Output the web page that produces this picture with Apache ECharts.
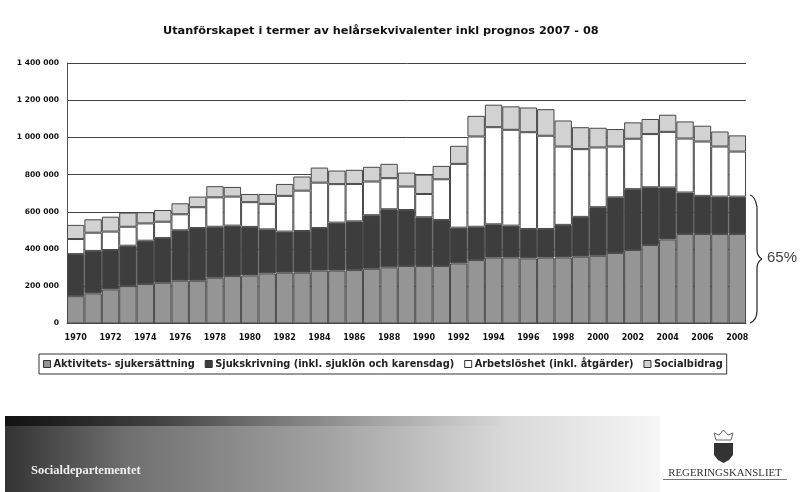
<!DOCTYPE html>
<html><head><meta charset="utf-8">
<style>html,body{margin:0;padding:0;background:#fff}#c{width:803px;height:492px}</style>
<script src="https://cdn.jsdelivr.net/npm/echarts@6/dist/echarts.min.js"></script></head>
<body><div id="c"></div>
<script>
const years = ["1970","1971","1972","1973","1974","1975","1976","1977","1978","1979","1980","1981","1982","1983","1984","1985","1986","1987","1988","1989","1990","1991","1992","1993","1994","1995","1996","1997","1998","1999","2000","2001","2002","2003","2004","2005","2006","2007","2008"];
const aktivitet = [147,162,183,201,212,219,230,230,246,255,258,269,273,273,284,284,287,294,302,309,309,309,323,341,354,354,350,354,355,359,364,379,395,422,452,481,481,481,481];
const sjuk = [226,228,212,217,233,240,271,283,274,271,261,237,221,224,229,258,262,288,312,301,262,247,192,179,179,172,158,154,175,214,261,299,327,310,279,223,205,201,201];
const arbets = [81,98,99,102,93,88,86,112,158,156,133,137,192,217,244,207,201,181,167,126,125,219,343,485,522,515,520,501,421,364,321,273,271,286,299,290,292,269,242];
const social = [76,72,80,76,60,63,59,57,60,52,44,53,64,76,81,73,76,79,77,75,104,72,97,111,121,126,133,143,140,118,106,94,88,81,92,92,85,81,87];
const names = ["Aktivitets- sjukersättning","Sjukskrivning (inkl. sjuklön och karensdag)","Arbetslöshet (inkl. åtgärder)","Socialbidrag"];
const colors = ["#959595","#3d3d3d","#ffffff","#d2d2d2"];
const titleText = "Utanförskapet i termer av helårsekvivalenter inkl prognos 2007 - 08";
const font = "DejaVu Sans";
const chart = echarts.init(document.getElementById('c'), null, {renderer:'canvas'});
const mk = (arr,i)=>({name:names[i],type:'bar',stack:'t',barWidth:'100%',data:arr.map(v=>v*1000),
  itemStyle:{color:colors[i],borderColor:i===2||i===3?'#484848':'#4a4a4a',borderWidth:1},silent:true});
const braceStyle = {fill:'none',stroke:'#222',lineWidth:1.2};
chart.setOption({
  animation:false,backgroundColor:'#fff',
  title:{text:titleText,left:163,top:26,padding:0,textStyle:{fontFamily:font,fontSize:11.3,fontWeight:'bold',color:'#111'}},
  legend:{left:39,top:354,width:780,padding:[5,4,5,4],itemGap:10,itemWidth:7,itemHeight:7,icon:'rect',
    borderColor:'#333',borderWidth:1,selectedMode:false,
    itemStyle:{borderColor:'#333',borderWidth:1},
    textStyle:{fontFamily:font,fontSize:9.8,fontWeight:'bold',color:'#222',padding:[0,0,0,-2]}},
  grid:{left:67,right:57,top:63,bottom:168.5},
  xAxis:{type:'category',data:years,axisTick:{show:false},
    axisLine:{lineStyle:{color:'#444'}},
    axisLabel:{interval:1,fontFamily:font,fontSize:8,fontWeight:'bold',color:'#111',margin:10}},
  yAxis:{type:'value',min:0,max:1400000,interval:200000,
    axisLine:{show:true,lineStyle:{color:'#555'}},axisTick:{show:false},
    splitLine:{lineStyle:{color:'#444',width:1}},
    axisLabel:{fontFamily:font,fontSize:7.6,fontWeight:'bold',color:'#111',margin:8,
      formatter:v=>String(v).replace(/\B(?=(\d{3})+$)/g,' ')}},
  series:[mk(aktivitet,0),mk(sjuk,1),mk(arbets,2),mk(social,3)],
  graphic:[
    {type:'rect',z:-1,shape:{x:5,y:416,width:655,height:76},
     style:{fill:new echarts.graphic.LinearGradient(0,0,1,0,[
       {offset:0,color:'#333333'},{offset:.19,color:'#707070'},{offset:.5,color:'#a4a4a4'},{offset:.6,color:'#b8b8b8'},{offset:.76,color:'#d8d8d8'},{offset:1,color:'#f6f6f6'}])}},
    {type:'rect',z:-1,shape:{x:5,y:416,width:495,height:10},
     style:{fill:new echarts.graphic.LinearGradient(0,0,1,0,[
       {offset:0,color:'rgba(15,15,15,0.9)'},{offset:.3,color:'rgba(40,40,40,0.7)'},{offset:.65,color:'rgba(110,110,110,0.4)'},{offset:1,color:'rgba(190,190,190,0.1)'}])}},
    {type:'text',style:{x:31,y:471,text:'Socialdepartementet',fontFamily:'Liberation Serif',fontSize:12.5,fontWeight:'bold',fill:'#eee',textVerticalAlign:'middle'}},
    {type:'text',style:{x:725,y:473,text:'REGERINGSKANSLIET',textAlign:'center',textVerticalAlign:'middle',fontFamily:'Liberation Serif',fontSize:10.8,fill:'#333'}},
    {type:'line',shape:{x1:663,y1:479.5,x2:787,y2:479.5},style:{stroke:'#777',lineWidth:1}},
    {type:'polygon',shape:{points:[[714,443],[733,443],[733,455],[729,460],[723.5,463],[718,460],[714,455]]},style:{fill:'#333'}},
    {type:'polygon',shape:{points:[[716,440],[714,433],[719,435],[723.5,430],[728,435],[733,433],[731,440]]},style:{fill:'#fff',stroke:'#666',lineWidth:1}},
    {type:'bezierCurve',shape:{x1:750,y1:195,cpx1:755,cpy1:196,x2:757,y2:207},style:braceStyle},
    {type:'line',shape:{x1:757,y1:207,x2:757,y2:250},style:braceStyle},
    {type:'bezierCurve',shape:{x1:757,y1:250,cpx1:757,cpy1:256,x2:762,y2:259},style:braceStyle},
    {type:'bezierCurve',shape:{x1:762,y1:259,cpx1:757,cpy1:262,x2:757,y2:268},style:braceStyle},
    {type:'line',shape:{x1:757,y1:268,x2:757,y2:311},style:braceStyle},
    {type:'bezierCurve',shape:{x1:757,y1:311,cpx1:757,cpy1:320,x2:750,y2:323},style:braceStyle},
    {type:'text',style:{x:767,y:258,text:'65%',fontFamily:'Liberation Sans',fontSize:15,fill:'#444',textVerticalAlign:'middle'}}
  ]
});
</script></body></html>
